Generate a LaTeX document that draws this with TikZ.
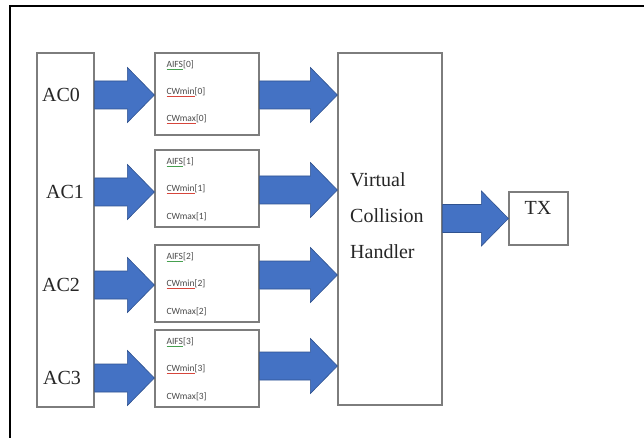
\documentclass[tikz,border=0pt]{standalone}
\usepackage{fontspec}
\setmainfont{Liberation Serif}
\newfontfamily\timesfont{Liberation Serif}
\newfontfamily\calibri{Carlito}
\usepackage{tikz}
\usetikzlibrary{calc}
\definecolor{flowblue}{RGB}{68,114,196}
\definecolor{flowedge}{RGB}{47,82,143}
\definecolor{boxgray}{RGB}{125,125,125}
\definecolor{paramtext}{RGB}{75,75,75}
\definecolor{spellred}{RGB}{215,70,60}
\definecolor{spellgreen}{RGB}{70,160,80}
% word with a coloured line under it
\newcommand{\spellmark}[2]{\textcolor{#1}{\underline{\textcolor{paramtext}{#2}}}}
% fat arrow from #1 to the tip #2 (same height)
\newcommand{\blockarrow}[2]{%
  \filldraw[flow] ($(#1)+(0,-14)$) -- ($(#2)+(-27,-14)$) -- ($(#2)+(-27,-27.5)$) -- (#2)
    -- ($(#2)+(-27,27.5)$) -- ($(#2)+(-27,14)$) -- ($(#1)+(0,14)$) -- cycle;}
\tikzset{
  block/.style={draw=boxgray, line width=1.2pt, fill=white, inner sep=0pt},
  big/.style={font=\timesfont\fontsize{20}{36}\selectfont, text=black!85, inner sep=0pt},
  param/.style={font=\calibri\fontsize{9.5}{12}\selectfont, text=paramtext, anchor=west, inner sep=0pt},
  flow/.style={fill=flowblue, draw=flowedge, line width=0.6pt, line join=miter},
}

\begin{document}
\begin{tikzpicture}[x=1pt, y=-1pt]
	\useasboundingbox (0,0) rectangle (644,438);
	% outer frame, only top and left edges fall inside
	\draw[line width=2pt] (9.5,438) -- (9.5,6.5) -- (644,6.5);

	% access categories
	\node[block, minimum width=57pt, minimum height=354pt] (ac) at (65.5,230) {};
	\node[big] (ac0) at (61,95) {AC0};
	\node[big] (ac1) at (65,192) {AC1};
	\node[big] (ac2) at (61,285) {AC2};
	\node[big] (ac3) at (62,378) {AC3};

	% parameter boxes
	\foreach \i/\yc/\h in {0/94/82, 1/188.5/77, 2/283.5/77, 3/368.5/77} {
		\node[block, minimum width=104pt, minimum height=\h pt] (box\i) at (207,\yc) {};
		\node[param] (aifs\i) at ($(box\i.north west)+(12,13)$) {\spellmark{spellgreen}{AIFS}[\i]};
		\node[param] (cwmin\i) at ($(box\i.north west)+(12,40)$) {\spellmark{spellred}{CWmin}[\i]};
		\node[param] (cwmax\i) at ($(box\i.north west)+(12,67)$) {\ifnum\i=0 \spellmark{spellred}{CWmax}\else CWmax\fi[\i]};
	}

	\node[block, minimum width=104pt, minimum height=352pt] (vch) at (390,229) {};
	\node[big, align=left, anchor=west] (vchtext) at (350,216) {Virtual\\Collision\\Handler};

	\node[block, minimum width=59pt, minimum height=53pt] (tx) at (538.5,218.5) {};
	\node[big] (txlabel) at (538,208) {TX};

	% arrows
	\foreach \i in {0,...,3} {
		\coordinate (s) at (ac.east |- ac\i);
		\coordinate (t) at (box\i.west |- ac\i);
		\blockarrow{s}{t}
	}
	\foreach \i/\dy in {0/1, 1/1.5, 2/-8.5, 3/-2.5} {
		\coordinate (s) at ($(box\i.east)+(0,\dy)$);
		\coordinate (t) at (vch.west |- s);
		\blockarrow{s}{t}
	}
	\coordinate (s) at (vch.east |- tx.west);
	\blockarrow{s}{tx.west}
\end{tikzpicture}
\end{document}
